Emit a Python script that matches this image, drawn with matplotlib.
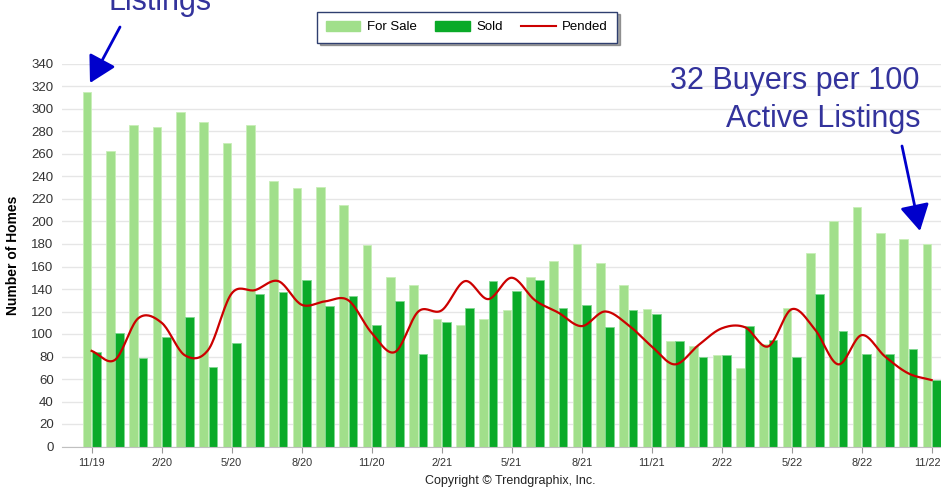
import numpy as np
import matplotlib.pyplot as plt
from matplotlib.patches import Patch, FancyArrowPatch
from matplotlib.lines import Line2D
from matplotlib.transforms import ScaledTranslation

plt.rcParams['font.family'] = ['Liberation Sans', 'DejaVu Sans']

# Monthly data, 11/19 .. 11/22
months = ['11/19', '12/19', '1/20', '2/20', '3/20', '4/20', '5/20', '6/20', '7/20', '8/20',
          '9/20', '10/20', '11/20', '12/20', '1/21', '2/21', '3/21', '4/21', '5/21', '6/21',
          '7/21', '8/21', '9/21', '10/21', '11/21', '12/21', '1/22', '2/22', '3/22', '4/22',
          '5/22', '6/22', '7/22', '8/22', '9/22', '10/22', '11/22']
for_sale = [315, 263, 286, 284, 297, 288, 270, 286, 236, 230, 231, 215,
            179, 151, 144, 113, 108, 113, 121, 151, 165, 180, 163, 144,
            122, 94, 89, 81, 70, 91, 123, 172, 200, 213, 190, 184, 180]
sold = [84, 101, 79, 97, 115, 71, 92, 136, 137, 148, 125, 134,
        108, 129, 82, 111, 123, 147, 138, 148, 123, 126, 106, 121,
        118, 94, 80, 81, 107, 95, 80, 136, 103, 82, 82, 87, 59]
pended = [85, 77, 114, 110, 81, 86, 136, 139, 147, 126, 129, 130,
          101, 84, 120, 121, 147, 131, 150, 130, 119, 107, 120, 108,
          89, 73, 90, 105, 106, 89, 122, 104, 73, 99, 80, 65, 59]
tick_labels = ['11/19', '2/20', '5/20', '8/20', '11/20', '2/21', '5/21',
               '8/21', '11/21', '2/22', '5/22', '8/22', '11/22']


def catmull_rom(x, y, n=20):
    # smooth curve through every point, like the original spline line
    x = np.asarray(x, float)
    y = np.asarray(y, float)
    px = np.concatenate([[2 * x[0] - x[1]], x, [2 * x[-1] - x[-2]]])
    py = np.concatenate([[2 * y[0] - y[1]], y, [2 * y[-1] - y[-2]]])
    xs, ys = [], []
    t = np.linspace(0, 1, n, endpoint=False)
    for i in range(1, len(px) - 2):
        for p, out in ((px, xs), (py, ys)):
            p0, p1, p2, p3 = p[i - 1], p[i], p[i + 1], p[i + 2]
            out.append(0.5 * (2 * p1 + (-p0 + p2) * t + (2 * p0 - 5 * p1 + 4 * p2 - p3) * t ** 2
                              + (-p0 + 3 * p1 - 3 * p2 + p3) * t ** 3))
    xs.append([x[-1]])
    ys.append([y[-1]])
    return np.concatenate(xs), np.concatenate(ys)


fig = plt.figure(figsize=(9.41, 4.88), dpi=100)
ax = fig.add_axes([62 / 941, 41.5 / 488, 879 / 941, 382.5 / 488])

x = np.arange(len(months))
c_sale = '#a1df8b'
c_sold = '#0aaa28'
ax.bar(x - 0.2, for_sale, width=0.38, color=c_sale, edgecolor='#c8efb8', linewidth=0.6, zorder=2)
ax.bar(x + 0.2, sold, width=0.38, color=c_sold, edgecolor='#7fd88f', linewidth=0.6, zorder=2)
sx, sy = catmull_rom(x, pended)
ax.plot(sx, sy, color='#cc0000', linewidth=1.6, zorder=3)

ax.set_xlim(-1.27, 36.4)
ax.set_ylim(0, 340)
ax.set_yticks(range(0, 341, 20))
ax.yaxis.grid(True, color='#e6e6e6', linewidth=1)
ax.set_axisbelow(True)
ax.set_xticks(x[::3])
ax.set_xticklabels(tick_labels)
for s in ['top', 'right', 'left']:
    ax.spines[s].set_visible(False)
ax.spines['bottom'].set_color('#c0c0c0')
ax.tick_params(axis='y', length=0, labelsize=9.5, labelcolor='#333333', pad=6)
ax.tick_params(axis='x', length=4, color='#999999', labelsize=7.8, labelcolor='#333333', pad=4)
ax.set_ylabel('Number of Homes', fontsize=10, fontweight='bold', labelpad=8)

# keep the last month label inside the image edge
last = ax.get_xticklabels()[-1]
last.set_ha('right')
last.set_transform(last.get_transform() + ScaledTranslation(9 / 100, 0, fig.dpi_scale_trans))

handles = [Patch(color=c_sale, label='For Sale'), Patch(color=c_sold, label='Sold'),
           Line2D([0], [0], color='#cc0000', lw=1.5, label='Pended')]
leg = fig.legend(handles=handles, loc='upper center', bbox_to_anchor=(467 / 941, 1 - 5 / 488),
                 ncol=3, fontsize=9.5, frameon=True, fancybox=False, shadow=True,
                 edgecolor='#2f3f6f', handlelength=2.6, handleheight=0.8, handletextpad=0.5,
                 columnspacing=1.4, borderpad=0.7)
leg.get_frame().set_linewidth(1)

blue = '#33339c'
fig.text(160 / 941, 1 - 10 / 488, 'Listings', fontsize=22, color=blue, ha='center', va='baseline')
fig.text(920 / 941, 1 - 89 / 488, '32 Buyers per 100', fontsize=22, color=blue, ha='right', va='baseline')
fig.text(920 / 941, 1 - 127 / 488, 'Active Listings', fontsize=22, color=blue, ha='right', va='baseline')

arrow_kw = dict(arrowstyle='-|>,head_length=0.8,head_width=0.45', color='#0000cc', lw=2,
                mutation_scale=20, shrinkA=0, shrinkB=0, transform=fig.transFigure)
fig.patches.append(FancyArrowPatch((120 / 941, 1 - 27 / 488), (90 / 941, 1 - 83 / 488), **arrow_kw))
fig.patches.append(FancyArrowPatch((902 / 941, 1 - 146 / 488), (920 / 941, 1 - 231 / 488), **arrow_kw))

fig.text(510 / 941, 1 - 481 / 488, 'Copyright \u00a9 Trendgraphix, Inc.', fontsize=9,
         color='#222222', ha='center', va='center')

fig.savefig('out.png', dpi=100)
